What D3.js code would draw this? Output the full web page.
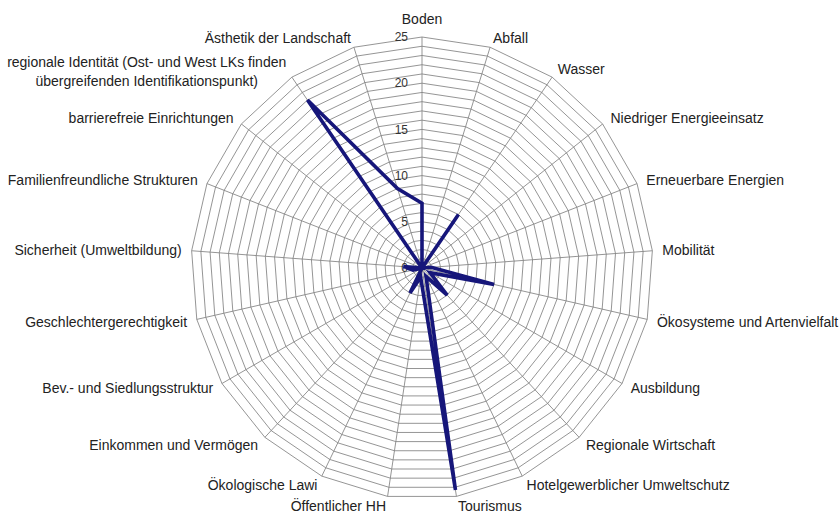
<!DOCTYPE html>
<html>
<head>
<meta charset="utf-8">
<script src="https://cdn.jsdelivr.net/npm/d3@7"></script>
<style>
  html, body { margin: 0; padding: 0; background: #fff; }
  svg { display: block; font-family: "Liberation Sans", Arial, sans-serif; }
  .cat-label { font-size: 14px; fill: #222; }
  .tick-label { font-size: 12px; fill: #333; }
</style>
</head>
<body>
<svg id="chart" width="840" height="513"></svg>
<script>
// Axis categories, clockwise from the top
const categories = [
    ["Boden"],
    ["Abfall"],
    ["Wasser"],
    ["Niedriger Energieeinsatz"],
    ["Erneuerbare Energien"],
    ["Mobilität"],
    ["Ökosysteme und Artenvielfalt"],
    ["Ausbildung"],
    ["Regionale Wirtschaft"],
    ["Hotelgewerblicher Umweltschutz"],
    ["Tourismus"],
    ["Öffentlicher HH"],
    ["Ökologische Lawi"],
    ["Einkommen und Vermögen"],
    ["Bev.- und Siedlungsstruktur"],
    ["Geschlechtergerechtigkeit"],
    ["Sicherheit (Umweltbildung)"],
    ["Familienfreundliche Strukturen"],
    ["barrierefreie Einrichtungen"],
    ["regionale Identität (Ost- und West LKs finden", "übergreifenden Identifikationspunkt)"],
    ["Ästhetik der Landschaft"]
];

// Series values
const values = [7, 0, 7, 0, 0, 1, 8, 1, 4, 1, 24.3, 1, 3, 0, 0, 1, 2, 0, 0, 22, 9];

// Radial tick labels and grid steps
const tickValues = [0, 5, 10, 15, 20, 25];
const gridSteps = d3.range(1, 26);
const maxValue = 25;

const cx = 422, cy = 268, radius = 231;

const svg = d3.select("#chart");
const g = svg.append("g").attr("transform", `translate(${cx},${cy})`);

const n = categories.length;
const angle = d3.scaleLinear().domain([0, n]).range([0, 2 * Math.PI]);
const r = d3.scaleLinear().domain([0, maxValue]).range([0, radius]);

const ringLine = d3.lineRadial()
    .angle((d, i) => angle(i))
    .radius(d => r(d))
    .curve(d3.curveLinearClosed);

// Concentric grid polygons
g.selectAll(".ring")
    .data(gridSteps)
    .join("path")
    .attr("class", "ring")
    .attr("d", step => ringLine(categories.map(() => step)))
    .attr("fill", "none")
    .attr("stroke", "#828282")
    .attr("stroke-width", 0.85);

// Spokes
g.selectAll(".spoke")
    .data(categories)
    .join("line")
    .attr("class", "spoke")
    .attr("x1", 0)
    .attr("y1", 0)
    .attr("x2", (d, i) => r(maxValue) * Math.sin(angle(i)))
    .attr("y2", (d, i) => -r(maxValue) * Math.cos(angle(i)))
    .attr("stroke", "#828282")
    .attr("stroke-width", 0.85);

// Tick labels along the first axis
g.selectAll(".tick-label")
    .data(tickValues)
    .join("text")
    .attr("class", "tick-label")
    .attr("x", -14)
    .attr("y", d => -r(d))
    .attr("dy", "0.35em")
    .attr("text-anchor", "end")
    .text(d => d);

// Category labels, placed just outside the outer ring
const labelR = radius + 10;
const labels = g.selectAll(".cat-label")
    .data(categories)
    .join("text")
    .attr("class", "cat-label");

labels.each(function (lines, i) {
    const a = angle(i);
    const s = Math.sin(a), c = Math.cos(a);
    const x = labelR * s;
    let y = -labelR * c;
    const text = d3.select(this);
    lines.forEach(line => text.append("tspan").text(line));
    const w = d3.max(text.selectAll("tspan").nodes(), t => t.getComputedTextLength());
    const lineH = 19;
    let midX;
    if (s > 0.1) midX = x + w / 2;
    else if (s < -0.1) midX = x - w / 2;
    else { midX = x; y += -c * 8; }
    const top = y - (lines.length - 1) * lineH / 2 + (lines.length > 1 ? 3 : 0);
    text.attr("text-anchor", "middle");
    text.selectAll("tspan")
        .attr("x", midX)
        .attr("y", (d, k) => top + k * lineH)
        .attr("dy", "0.35em");
});

// Data series
const dataLine = d3.lineRadial()
    .angle((d, i) => angle(i))
    .radius(d => r(d))
    .curve(d3.curveLinearClosed);

g.append("path")
    .datum(values)
    .attr("d", dataLine)
    .attr("fill", "none")
    .attr("stroke", "#16167a")
    .attr("stroke-width", 3.6)
    .attr("stroke-linejoin", "miter");
</script>
</body>
</html>
